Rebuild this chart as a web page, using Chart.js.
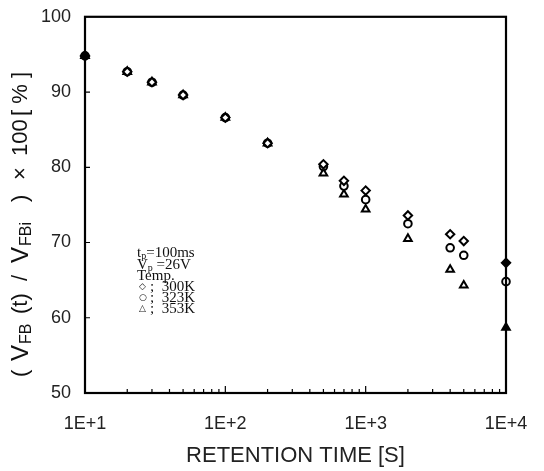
<!DOCTYPE html>
<html>
<head>
<meta charset="utf-8">
<script src="https://cdn.jsdelivr.net/npm/chart.js@4/dist/chart.umd.min.js"></script>
<style>
  html, body { margin: 0; padding: 0; background: #fff; }
  #wrap { width: 544px; height: 471px; }
</style>
</head>
<body>
<div id="wrap"><canvas id="c" width="544" height="471"></canvas></div>
<script>
// retention time [s]
const times = [10, 20, 30, 50, 100, 200, 500, 700, 1000, 2000, 4000, 5000, 10000];
// (VFB(t) / VFBi) x 100 [%]
const k300 = [94.8, 92.7, 91.3, 89.6, 86.6, 83.2, 80.4, 78.2, 76.9, 73.6, 71.1, 70.2, 67.3];
const k323 = [94.8, 92.7, 91.3, 89.6, 86.6, 83.2, 80.1, 77.5, 75.7, 72.5, 69.3, 68.3, 64.8];
const k353 = [94.8, 92.7, 91.3, 89.6, 86.6, 83.2, 79.2, 76.4, 74.4, 70.5, 66.4, 64.3, 58.7];
// which markers are drawn solid
const filled300 = [1, 0, 0, 0, 0, 0, 0, 0, 0, 0, 0, 0, 1];
const filled323 = [1, 0, 0, 0, 0, 0, 0, 0, 0, 0, 0, 0, 0];
const filled353 = [1, 0, 0, 0, 0, 0, 0, 0, 0, 0, 0, 0, 1];
const yTicks = [50, 60, 70, 80, 90, 100];
const xLabels = ["1E+1", "1E+2", "1E+3", "1E+4"];

function makeSet(label, vals, fills, style, r) {
  return {
    label: label,
    data: times.map((t, i) => ({ x: t, y: vals[i] })),
    pointStyle: style,
    pointRadius: r,
    pointBorderWidth: 2,
    pointBorderColor: "#000",
    pointBackgroundColor: fills.map(f => f ? "#000" : "#fff"),
    showLine: false,
    clip: false
  };
}

// frame, inward ticks, y title and the note
const decor = {
  id: "decor",
  afterDraw(chart) {
    const ctx = chart.ctx;
    const a = chart.chartArea;
    const xs = chart.scales.x, ys = chart.scales.y;
    ctx.save();
    ctx.strokeStyle = "#000";
    ctx.lineWidth = 2.2;
    ctx.strokeRect(a.left, a.top, a.right - a.left, a.bottom - a.top);

    ctx.lineWidth = 1.2;
    ctx.beginPath();
    for (let d = 10; d < 10000; d *= 10) {
      for (let m = 1; m <= 10; m++) {
        const v = d * m;
        if (v <= 10 || v >= 10000) continue;
        const px = xs.getPixelForValue(v);
        const len = m === 10 ? 7 : 4;
        ctx.moveTo(px, a.bottom);
        ctx.lineTo(px, a.bottom - len);
      }
    }
    yTicks.forEach(v => {
      if (v === 50 || v === 100) return;
      const py = ys.getPixelForValue(v);
      ctx.moveTo(a.left, py);
      ctx.lineTo(a.left + 5, py);
    });
    ctx.stroke();

    // y axis title with subscripts, pieces placed along the axis
    const sans = "'Liberation Sans', Arial, sans-serif";
    const parts = [
      ["(", "22px " + sans, 377, 0],
      ["V", "24px " + sans, 361, 0],
      ["FB", "16px " + sans, 344, 6],
      ["(t)", "22px " + sans, 314, 0],
      ["/", "22px " + sans, 281, 0],
      ["V", "24px " + sans, 263, 0],
      ["FBi", "16px " + sans, 246, 6],
      [")", "22px " + sans, 202, 0],
      ["\u00d7", "22px " + sans, 180, 0],
      ["100", "22px " + sans, 156, 0],
      ["[ % ]", "22px " + sans, 116, 0]
    ];
    ctx.translate(21, 0);
    ctx.rotate(-Math.PI / 2);
    ctx.fillStyle = "#111";
    ctx.textBaseline = "middle";
    parts.forEach(p => {
      ctx.font = p[1];
      ctx.fillText(p[0], -p[2], p[3]);
    });
    ctx.restore();

    // note in the plot
    ctx.save();
    ctx.fillStyle = "#111";
    ctx.textBaseline = "middle";
    const serif = "15px 'Liberation Serif', 'Times New Roman', serif";
    const serifSub = "10px 'Liberation Serif', 'Times New Roman', serif";
    const x0 = 137;
    function line(y, segs) {
      let x = x0;
      segs.forEach(s => {
        ctx.font = s[1];
        ctx.fillText(s[0], x, y + s[2]);
        x += ctx.measureText(s[0]).width;
      });
    }
    line(253, [["t", serif, 0], ["p", serifSub, 3], ["=100ms", serif, 0]]);
    line(265, [["V", serif, 0], ["p", serifSub, 3], [" =26V", serif, 0]]);
    line(276, [["Temp.", serif, 0]]);
    ctx.font = "bold 9px 'DejaVu Sans', sans-serif";
    ctx.fillText("\u25c7", x0 + 2, 287);
    ctx.fillText("\u25cb", x0 + 2, 298);
    ctx.fillText("\u25b3", x0 + 2, 309);
    ctx.font = serif;
    ctx.fillText(";  300K", x0 + 13, 287);
    ctx.fillText(";  323K", x0 + 13, 298);
    ctx.fillText(";  353K", x0 + 13, 309);
    ctx.restore();
  }
};

new Chart(document.getElementById("c"), {
  type: "scatter",
  data: {
    datasets: [
      makeSet("300K", k300, filled300, "rectRot", 4.2),
      makeSet("323K", k323, filled323, "circle", 3.8),
      makeSet("353K", k353, filled353, "triangle", 4.4)
    ]
  },
  options: {
    responsive: false,
    animation: false,
    layout: { padding: { left: 0, top: 13, right: 38, bottom: 0 } },
    plugins: { legend: { display: false }, tooltip: { enabled: false } },
    scales: {
      x: {
        type: "logarithmic",
        min: 10,
        max: 10000,
        grid: { display: false },
        border: { display: false },
        afterFit(s) { s.height = 78; },
        afterBuildTicks(s) { s.ticks = [10, 100, 1000, 10000].map(v => ({ value: v })); },
        ticks: {
          padding: 12,
          maxRotation: 0,
          autoSkip: false,
          color: "#222",
          font: { family: "'Liberation Sans', Arial, sans-serif", size: 18 },
          callback: (v) => xLabels[Math.round(Math.log10(v)) - 1]
        },
        title: {
          display: true,
          text: "RETENTION TIME [S]",
          color: "#222",
          padding: { top: 2, bottom: 2 },
          font: { family: "'Liberation Sans', Arial, sans-serif", size: 22 }
        }
      },
      y: {
        min: 50,
        max: 100,
        grid: { display: false },
        border: { display: false },
        afterFit(s) { s.width = 85; },
        afterBuildTicks(s) { s.ticks = yTicks.map(v => ({ value: v })); },
        ticks: {
          padding: 6,
          color: "#222",
          font: { family: "'Liberation Sans', Arial, sans-serif", size: 18 }
        }
      }
    }
  },
  plugins: [decor]
});
</script>
</body>
</html>
